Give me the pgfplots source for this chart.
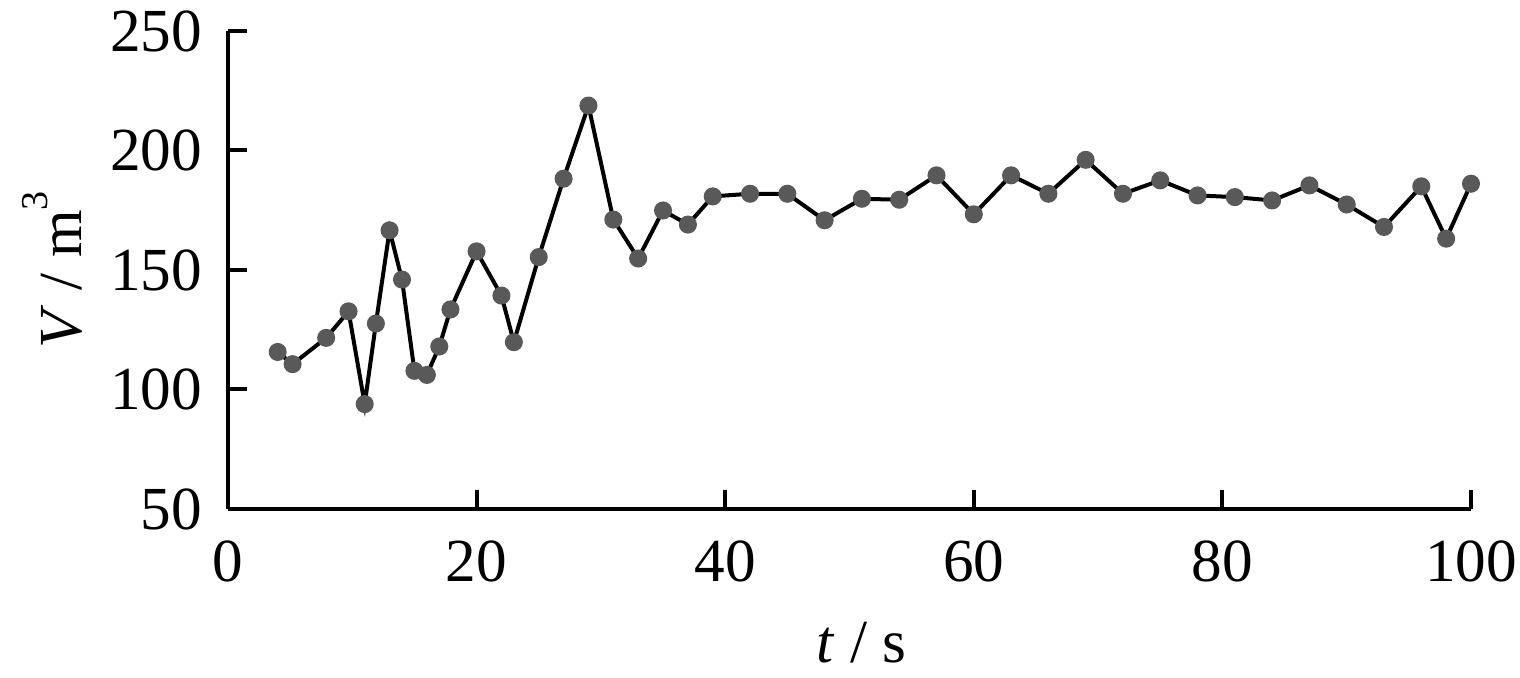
\documentclass[border=0pt]{standalone}
\usepackage{fontspec}
\setmainfont{Liberation Serif}
\usepackage{pgfplots}
\pgfplotsset{compat=1.18}
\begin{document}
\begin{tikzpicture}
\begin{axis}[
  width=310.75pt, height=119.5pt, scale only axis,
  xmin=0, xmax=100, ymin=50, ymax=250,
  axis lines=left,
  axis line style={-, line width=1pt, black},
  tick align=inside,
  major tick length=4.75pt,
  tick style={black, line width=1pt},
  xtick={0,20,...,100}, ytick={50,100,...,250},
  /pgf/number format/assume math mode=true,
  ticklabel style={font=\fontsize{15.3}{15.3}\selectfont},
  xticklabel style={yshift=-4.5pt},
  yticklabel style={xshift=-3pt},
  label style={font=\fontsize{15.3}{15.3}\selectfont},
  xlabel={\textit{t} / s},
  xlabel style={yshift=-3pt, xshift=3pt},
  ylabel={\textit{V} / m\raisebox{0.55em}{\fontsize{9.5}{9.5}\selectfont 3}},
  clip=false,
]
\addplot[black, line width=1pt, mark=*, mark size=1.75pt,
  mark options={fill=black!65, draw=black!65}] coordinates {
(4,115.7) (5.2,110.6) (7.9,121.6) (9.7,132.7) (11,93.9) (11.9,127.6)
(13,166.6) (14,146) (15,107.8) (16,106.1) (17,118) (17.9,133.5)
(20,157.8) (22,139.3) (23,119.8) (25,155.4) (27,188.2) (29,218.8)
(31,171.1) (33,154.8) (35,174.9) (37,169) (39,180.8)
(42,181.9) (45,181.9) (48,170.8) (51,179.8) (54,179.4) (57,189.6)
(60,173.3) (63,189.6) (66,181.9) (69,196.1) (72,181.9) (75,187.5)
(78,181.2) (81,180.5) (84,179.1) (87,185.4) (90,177.4) (93,168)
(96,185) (98,163.1) (100,186.1)
};
\coordinate (bbbl) at (axis cs:-18.34,-20.71);
\coordinate (bbtr) at (axis cs:103.94,262.97);
\end{axis}
\pgfresetboundingbox
\path[use as bounding box] (bbbl) rectangle (bbtr);
\end{tikzpicture}
\end{document}
